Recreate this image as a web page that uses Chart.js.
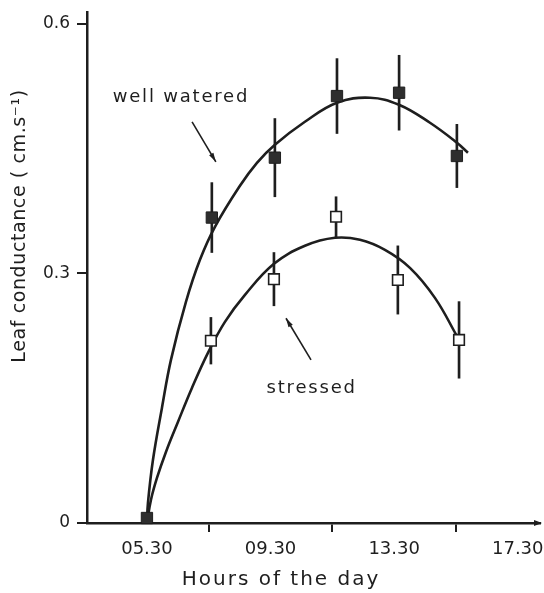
<!DOCTYPE html>
<html>
<head>
<meta charset="utf-8">
<script src="https://cdn.jsdelivr.net/npm/chart.js@4.4.1/dist/chart.umd.min.js"></script>
<style>
  html, body { margin: 0; padding: 0; background: #fff; }
  #wrap { width: 544px; height: 593px; position: relative; }
</style>
</head>
<body>
<div id="wrap"><canvas id="conductance-chart"></canvas></div>
<script>
// axis ticks
const xTickValues = [5.5, 9.5, 13.5, 17.5];
const xTickLabels = ['05.30', '09.30', '13.30', '17.30'];
const yTickValues = [0, 0.3, 0.6];
const yTickLabels = ['0', '0.3', '0.6'];

// measured means and error bars (hours of the day, cm/s)
const wellHours = [5.5, 7.60, 9.64, 11.65, 13.66, 15.53];
const wellValues = [0.006, 0.367, 0.439, 0.513, 0.517, 0.441];
const wellErrors = [0, 0.042, 0.047, 0.045, 0.045, 0.038];

const stressHours = [7.57, 9.61, 11.62, 13.62, 15.60];
const stressValues = [0.219, 0.293, 0.368, 0.292, 0.220];
const stressErrors = [0.028, 0.032, 0.024, 0.041, 0.046];

// fitted curves
const wellCurveHours = [5.5, 5.532, 5.694, 5.985, 6.277, 6.762, 7.215, 7.701, 8.51, 9.06, 9.641, 10.612, 11.649, 12.717, 13.655, 14.659, 15.532, 15.888];
const wellCurveValues = [0, 0.024, 0.0757, 0.1383, 0.196, 0.2657, 0.3162, 0.3559, 0.4052, 0.4328, 0.4545, 0.4821, 0.505, 0.511, 0.5026, 0.4809, 0.4569, 0.4449];

const stressCurveHours = [5.5, 5.629, 5.824, 6.115, 6.503, 6.956, 7.474, 8.024, 8.672, 9.61, 10.613, 11.584, 12.393, 13.202, 14.011, 14.82, 15.565];
const stressCurveValues = [0, 0.0277, 0.0541, 0.0854, 0.1214, 0.1623, 0.2044, 0.2417, 0.2741, 0.3114, 0.3331, 0.3427, 0.3403, 0.3282, 0.3066, 0.2705, 0.2224];

const ink = '#1e1e1e';
const fontFamily = "'DejaVu Sans', sans-serif";

// labels with arrows, placed in data units
const notes = [
  { text: 'well watered', at: [6.6, 0.511], from: [6.96, 0.482], to: [7.73, 0.434] },
  { text: 'stressed', at: [10.83, 0.162], from: [10.81, 0.196], to: [10.0, 0.246] },
];

const toPoints = (xs, ys) => xs.map((x, i) => ({ x, y: ys[i] }));
const toBars = (xs, ys, errs) =>
  xs.map((x, i) => ({ x, y: [ys[i] - errs[i], ys[i] + errs[i]] })).filter((d, i) => errs[i] > 0);

function arrowHead(ctx, x0, y0, x1, y1, len, half) {
  const a = Math.atan2(y1 - y0, x1 - x0);
  ctx.beginPath();
  ctx.moveTo(x1, y1);
  ctx.lineTo(x1 - len * Math.cos(a) + half * Math.sin(a), y1 - len * Math.sin(a) - half * Math.cos(a));
  ctx.lineTo(x1 - len * Math.cos(a) - half * Math.sin(a), y1 - len * Math.sin(a) + half * Math.cos(a));
  ctx.closePath();
  ctx.fill();
}

const decorations = {
  id: 'decorations',
  afterDraw(chart) {
    const { ctx, chartArea, scales: { x, y } } = chart;
    ctx.save();
    ctx.fillStyle = ink;
    ctx.strokeStyle = ink;

    // arrow tip on the time axis
    arrowHead(ctx, chartArea.right - 10, chartArea.bottom, chartArea.right + 2, chartArea.bottom, 8, 3);

    // notes
    ctx.font = `18px ${fontFamily}`;
    ctx.letterSpacing = '1.8px';
    ctx.textAlign = 'center';
    ctx.textBaseline = 'middle';
    notes.forEach(n => {
      ctx.fillText(n.text, x.getPixelForValue(n.at[0]), y.getPixelForValue(n.at[1]));
      const x0 = x.getPixelForValue(n.from[0]), y0 = y.getPixelForValue(n.from[1]);
      const x1 = x.getPixelForValue(n.to[0]), y1 = y.getPixelForValue(n.to[1]);
      ctx.lineWidth = 1.6;
      ctx.beginPath();
      ctx.moveTo(x0, y0);
      ctx.lineTo(x1, y1);
      ctx.stroke();
      arrowHead(ctx, x0, y0, x1, y1, 9, 2.5);
    });

    // axis titles
    ctx.font = `20px ${fontFamily}`;
    ctx.letterSpacing = '2px';
    ctx.fillText('Hours of the day', 281, 580);

    ctx.font = `19px ${fontFamily}`;
    ctx.letterSpacing = '0.6px';
    ctx.translate(20, 226);
    ctx.rotate(-Math.PI / 2);
    ctx.fillText('Leaf conductance ( cm.s\u207B\u00B9)', 0, 0);
    ctx.restore();
  }
};

const curveStyle = {
  type: 'line',
  borderColor: ink,
  borderWidth: 2.6,
  pointRadius: 0,
  tension: 0.4,
  fill: false,
  clip: false,
};

const ctx = document.getElementById('conductance-chart').getContext('2d');
const chart = new Chart(ctx, {
  type: 'scatter',
  data: {
    datasets: [
      {
        type: 'bar',
        data: toBars(wellHours, wellValues, wellErrors),
        backgroundColor: ink,
        barThickness: 2,
        grouped: false,
        order: 4,
      },
      {
        type: 'bar',
        data: toBars(stressHours, stressValues, stressErrors),
        backgroundColor: ink,
        barThickness: 2,
        grouped: false,
        order: 5,
      },
      { ...curveStyle, data: toPoints(wellCurveHours, wellCurveValues), order: 2 },
      { ...curveStyle, data: toPoints(stressCurveHours, stressCurveValues), order: 3 },
      {
        label: 'well watered',
        data: toPoints(wellHours, wellValues),
        pointStyle: 'rect',
        pointRadius: 8,
        backgroundColor: '#2e2e2e',
        borderColor: ink,
        borderWidth: 1,
        clip: false,
        order: 0,
      },
      {
        label: 'stressed',
        data: toPoints(stressHours, stressValues),
        pointStyle: 'rect',
        pointRadius: 7.5,
        backgroundColor: '#fff',
        borderColor: ink,
        borderWidth: 1.6,
        clip: false,
        order: 1,
      },
    ],
  },
  options: {
    responsive: true,
    maintainAspectRatio: false,
    animation: false,
    layout: { autoPadding: false, padding: { top: 12, right: 4, left: 0, bottom: 0 } },
    plugins: {
      legend: { display: false },
      tooltip: { enabled: false },
    },
    scales: {
      x: {
        type: 'linear',
        min: 3.56,
        max: 18.22,
        offset: false,
        afterBuildTicks: s => { s.ticks = xTickValues.map(value => ({ value })); },
        afterFit: s => { s.height = 70; s.paddingLeft = 0; s.paddingRight = 0; },
        ticks: {
          callback: v => xTickLabels[xTickValues.indexOf(v)],
          font: { family: fontFamily, size: 18 },
          color: ink,
          padding: 7,
          maxRotation: 0,
          autoSkip: false,
        },
        grid: { drawOnChartArea: false, tickLength: 9, color: ink, lineWidth: 2 },
        border: { color: ink, width: 2.5 },
      },
      y: {
        type: 'linear',
        min: 0,
        max: 0.614,
        afterBuildTicks: s => { s.ticks = yTickValues.map(value => ({ value })); },
        afterFit: s => { s.width = 87; s.paddingTop = 0; s.paddingBottom = 0; },
        ticks: {
          callback: v => yTickLabels[yTickValues.indexOf(v)],
          font: { family: fontFamily, size: 17 },
          color: ink,
          padding: 7,
        },
        grid: { drawOnChartArea: false, tickLength: 10, color: ink, lineWidth: 2 },
        border: { color: ink, width: 2.5 },
      },
    },
  },
  plugins: [decorations],
});
</script>
</body>
</html>
